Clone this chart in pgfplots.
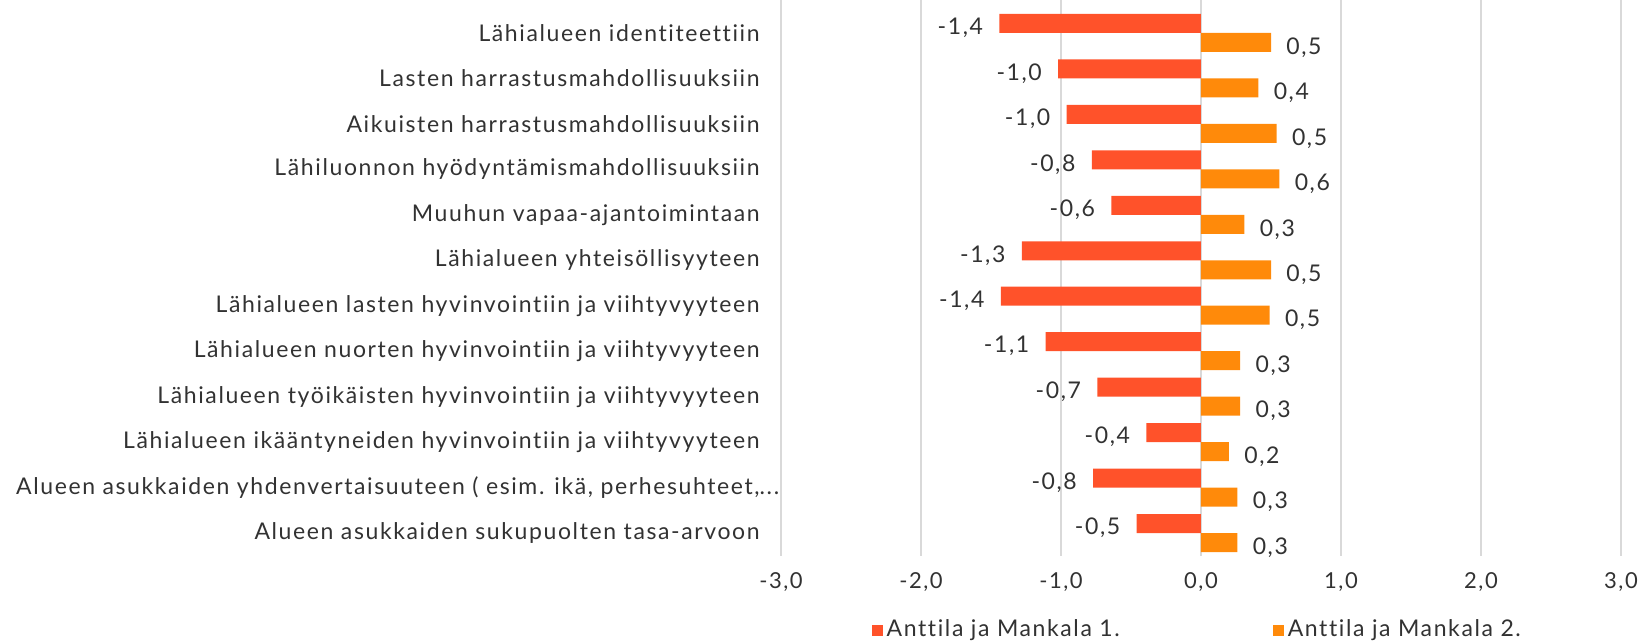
\documentclass[border=0pt]{standalone}
\usepackage{pgfplots}
\usepackage{pgfplotstable}
\pgfplotsset{compat=1.18}
\usepackage{fontspec}
\setmainfont{Lato}[Ligatures=NoCommon, LetterSpace=7]
\usetikzlibrary{calc}
\definecolor{cred}{RGB}{255,82,42}
\definecolor{corange}{RGB}{255,138,10}
\definecolor{ctext}{RGB}{50,50,50}
\definecolor{cgrid}{RGB}{217,217,217}
\pgfplotstableread{
y a b
0 -1.44 0.50
1 -1.02 0.41
2 -0.96 0.54
3 -0.78 0.56
4 -0.64 0.31
5 -1.28 0.50
6 -1.43 0.49
7 -1.11 0.28
8 -0.74 0.28
9 -0.39 0.20
10 -0.77 0.26
11 -0.46 0.26
}\data
\begin{document}
\begin{tikzpicture}
\begin{axis}[
  name=ax,
  width=420pt, height=278pt, scale only axis,
  xbar, bar width=9.5pt,
  y dir=reverse,
  xmin=-3, xmax=3, ymin=-0.726, ymax=11.506,
  xtick={-3,-2,-1,0,1,2,3},
  ytick={0,1,2,3,4,5,6,7,8,9,10,11},
  yticklabels={
    {Lähialueen identiteettiin},
    {Lasten harrastusmahdollisuuksiin},
    {Aikuisten harrastusmahdollisuuksiin},
    {Lähiluonnon hyödyntämismahdollisuuksiin},
    {Muuhun vapaa-ajantoimintaan},
    {Lähialueen yhteisöllisyyteen},
    {Lähialueen lasten hyvinvointiin ja viihtyvyyteen},
    {Lähialueen nuorten hyvinvointiin ja viihtyvyyteen},
    {Lähialueen työikäisten hyvinvointiin ja viihtyvyyteen},
    {Lähialueen ikääntyneiden hyvinvointiin ja viihtyvyyteen},
    {Alueen asukkaiden yhdenvertaisuuteen ( esim. ikä, perhesuhteet,\rlap{...}},
    {Alueen asukkaiden sukupuolten tasa-arvoon}},
  axis line style={draw=none},
  major tick length=0pt,
  xmajorgrids,
  grid style={cgrid, line width=1.2pt},
  xticklabel={\pgfmathprintnumber[fixed,zerofill,precision=1,use comma]{\tick}},
  /pgf/number format/assume math mode=true,
  xticklabel style={font=\fontsize{11}{13}\selectfont, text=ctext, inner sep=0pt, yshift=-8pt},
  yticklabel style={font=\fontsize{11.5}{13}\selectfont, text=ctext, inner sep=0pt, xshift=-10.5pt},
  nodes near coords={\pgfmathprintnumber[fixed,zerofill,precision=1,use comma,assume math mode=true]{\pgfplotspointmeta}},
  legend columns=2,
  legend style={draw=none, at={(0.108,-0.1331)}, anchor=west, inner sep=0pt, outer sep=0pt,
    font=\fontsize{11.5}{13}\selectfont, text=ctext,
    nodes={inner xsep=2pt, inner ysep=0pt},
    /tikz/every even column/.append style={column sep=74.5pt}},
  legend image code/.code={\fill[#1] (0pt,-2.75pt) rectangle (5.5pt,2.75pt);},
]
\addplot[fill=cred, draw=none, bar shift=4.75pt,
  nodes near coords style={anchor=east, inner sep=0pt, xshift=-8pt, yshift=-2.25pt, text=ctext, font=\fontsize{11.5}{13}\selectfont}]
  table[x=a, y=y] {\data};
\addlegendentry{Anttila ja Mankala 1.}
\addplot[fill=corange, draw=none, bar shift=-4.75pt,
  nodes near coords style={anchor=west, inner sep=0pt, xshift=7.5pt, yshift=-2.5pt, text=ctext, font=\fontsize{11.5}{13}\selectfont}]
  table[x=b, y=y] {\data};
\addlegendentry{Anttila ja Mankala 2.}
\end{axis}
\pgfresetboundingbox
\useasboundingbox ($(ax.south west)+(-390.5pt,-42.5pt)$) rectangle ($(ax.north east)+(10.5pt,0pt)$);
\end{tikzpicture}
\end{document}
